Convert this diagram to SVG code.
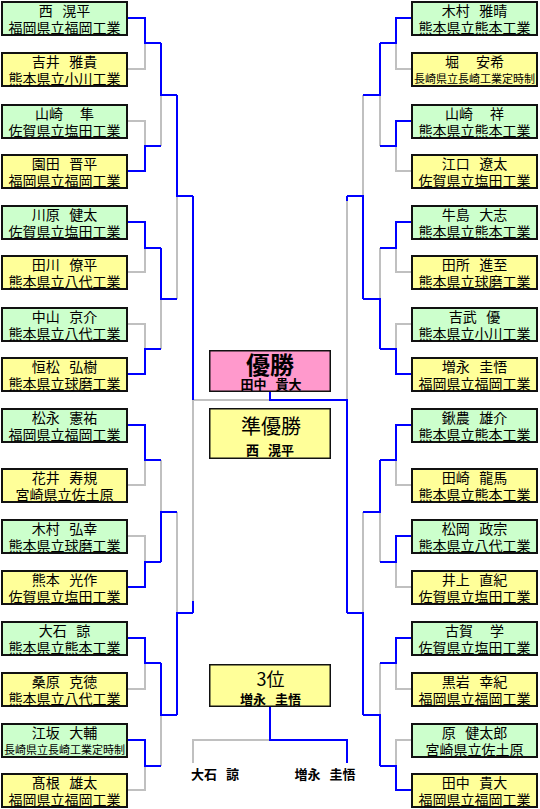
<svg xmlns="http://www.w3.org/2000/svg" width="540" height="809" viewBox="0 0 540 809">
<style>
text{font-family:"Noto Sans CJK JP","Noto Sans CJK SC",sans-serif;fill:#000;text-anchor:middle;white-space:pre}
.gb{fill:#ccffcc;stroke:#111;stroke-width:2}
.yb{fill:#ffff99;stroke:#111;stroke-width:2}
.cb{stroke:#111;stroke-width:1.5}
.nm{font-size:14px}
.sc{font-size:14px}
.ss{font-size:11px}
.bd{font-size:13px;font-weight:bold}
.bl{fill:none;stroke:#0000ff;stroke-width:2}
.gr{fill:none;stroke:#c0c0c0;stroke-width:2}
</style>
<rect width="540" height="809" fill="#fff"/>
<g id="connectors">
<path class="gr" d="M127,69H145V43 M127,121H145V146 M127,272H145V248 M127,324H145V349 M127,485H145V460 M127,536H145V562 M127,689H145V663 M127,790H145V766 M161,146V95 M161,349V299 M161,460V512 M161,766V715 M177,299V196 M177,512V613 M193,613V400H270 M412,69H396V43 M412,171H396V146 M412,272H396V248 M412,324H396V349 M412,485H396V460 M412,587H396V562 M412,689H396V663 M412,740H396V766 M380,146V95 M380,248V299 M380,562V512 M380,663V715 M363,95V196 M363,512V613 M347,196V400 M270,740H193V763"/>
<path class="bl" d="M127,18H145V43H161 M127,171H145V146H161 M127,222H145V248H161 M127,374H145V349H161 M127,425H145V460H161 M127,587H145V562H161 M127,638H145V663H161 M127,740H145V766H161 M161,43V95H177 M161,248V299H177 M161,562V512H177 M161,663V715H177 M177,95V196H193 M177,715V613H193 M193,196V400 M193,601V613 M412,18H396V43H380 M412,121H396V146H380 M412,222H396V248H380 M412,374H396V349H380 M412,425H396V460H380 M412,536H396V562H380 M412,638H396V663H380 M412,790H396V766H380 M380,43V95H363 M380,349V299H363 M380,460V512H363 M380,766V715H363 M363,299V196H347 M363,715V613H347 M347,196V201 M270,392V400H347V613 M270,707V740H347V763"/>
</g>
<g id="L01"><rect class="gb" x="2" y="2" width="125" height="33"/><text class="nm" x="64.5" y="16" xml:space="preserve">西   滉平</text><text class="sc" x="64.5" y="33">福岡県立福岡工業</text></g>
<g id="L02"><rect class="yb" x="2" y="53" width="125" height="33"/><text class="nm" x="64.5" y="67" xml:space="preserve">吉井   雅貴</text><text class="sc" x="64.5" y="84">熊本県立小川工業</text></g>
<g id="L03"><rect class="gb" x="2" y="105" width="125" height="33"/><text class="nm" x="64.5" y="119" xml:space="preserve">山崎　 隼</text><text class="sc" x="64.5" y="136">佐賀県立塩田工業</text></g>
<g id="L04"><rect class="yb" x="2" y="155" width="125" height="33"/><text class="nm" x="64.5" y="169" xml:space="preserve">園田   晋平</text><text class="sc" x="64.5" y="186">福岡県立福岡工業</text></g>
<g id="L05"><rect class="gb" x="2" y="206" width="125" height="33"/><text class="nm" x="64.5" y="220" xml:space="preserve">川原   健太</text><text class="sc" x="64.5" y="237">佐賀県立塩田工業</text></g>
<g id="L06"><rect class="yb" x="2" y="256" width="125" height="33"/><text class="nm" x="64.5" y="270" xml:space="preserve">田川   僚平</text><text class="sc" x="64.5" y="287">熊本県立八代工業</text></g>
<g id="L07"><rect class="gb" x="2" y="308" width="125" height="33"/><text class="nm" x="64.5" y="322" xml:space="preserve">中山   京介</text><text class="sc" x="64.5" y="339">熊本県立八代工業</text></g>
<g id="L08"><rect class="yb" x="2" y="358" width="125" height="33"/><text class="nm" x="64.5" y="372" xml:space="preserve">恒松   弘樹</text><text class="sc" x="64.5" y="389">熊本県立球磨工業</text></g>
<g id="L09"><rect class="gb" x="2" y="409" width="125" height="33"/><text class="nm" x="64.5" y="423" xml:space="preserve">松永   憲祐</text><text class="sc" x="64.5" y="440">福岡県立福岡工業</text></g>
<g id="L10"><rect class="yb" x="2" y="469" width="125" height="33"/><text class="nm" x="64.5" y="483" xml:space="preserve">花井   寿規</text><text class="sc" x="64.5" y="500">宮崎県立佐土原</text></g>
<g id="L11"><rect class="gb" x="2" y="520" width="125" height="33"/><text class="nm" x="64.5" y="534" xml:space="preserve">木村   弘幸</text><text class="sc" x="64.5" y="551">熊本県立球磨工業</text></g>
<g id="L12"><rect class="yb" x="2" y="571" width="125" height="33"/><text class="nm" x="64.5" y="585" xml:space="preserve">熊本   光作</text><text class="sc" x="64.5" y="602">佐賀県立塩田工業</text></g>
<g id="L13"><rect class="gb" x="2" y="622" width="125" height="33"/><text class="nm" x="64.5" y="636" xml:space="preserve">大石   諒</text><text class="sc" x="64.5" y="653">熊本県立熊本工業</text></g>
<g id="L14"><rect class="yb" x="2" y="673" width="125" height="33"/><text class="nm" x="64.5" y="687" xml:space="preserve">桑原   克徳</text><text class="sc" x="64.5" y="704">熊本県立八代工業</text></g>
<g id="L15"><rect class="gb" x="2" y="724" width="125" height="33"/><text class="nm" x="64.5" y="738" xml:space="preserve">江坂   大輔</text><text class="ss" x="64.5" y="754">長崎県立長崎工業定時制</text></g>
<g id="L16"><rect class="yb" x="2" y="774" width="125" height="33"/><text class="nm" x="64.5" y="788" xml:space="preserve">髙根   雄太</text><text class="sc" x="64.5" y="805">福岡県立福岡工業</text></g>
<g id="R01"><rect class="gb" x="412" y="2" width="125" height="33"/><text class="nm" x="474.5" y="16" xml:space="preserve">木村   雅晴</text><text class="sc" x="474.5" y="33">熊本県立熊本工業</text></g>
<g id="R02"><rect class="yb" x="412" y="53" width="125" height="33"/><text class="nm" x="474.5" y="67" xml:space="preserve">堀　 安希</text><text class="ss" x="474.5" y="83">長崎県立長崎工業定時制</text></g>
<g id="R03"><rect class="gb" x="412" y="105" width="125" height="33"/><text class="nm" x="474.5" y="119" xml:space="preserve">山崎　 祥</text><text class="sc" x="474.5" y="136">熊本県立熊本工業</text></g>
<g id="R04"><rect class="yb" x="412" y="155" width="125" height="33"/><text class="nm" x="474.5" y="169" xml:space="preserve">江口   遼太</text><text class="sc" x="474.5" y="186">佐賀県立塩田工業</text></g>
<g id="R05"><rect class="gb" x="412" y="206" width="125" height="33"/><text class="nm" x="474.5" y="220" xml:space="preserve">牛島   大志</text><text class="sc" x="474.5" y="237">熊本県立熊本工業</text></g>
<g id="R06"><rect class="yb" x="412" y="256" width="125" height="33"/><text class="nm" x="474.5" y="270" xml:space="preserve">田所   進至</text><text class="sc" x="474.5" y="287">熊本県立球磨工業</text></g>
<g id="R07"><rect class="gb" x="412" y="308" width="125" height="33"/><text class="nm" x="474.5" y="322" xml:space="preserve">吉武   優</text><text class="sc" x="474.5" y="339">熊本県立小川工業</text></g>
<g id="R08"><rect class="yb" x="412" y="358" width="125" height="33"/><text class="nm" x="474.5" y="372" xml:space="preserve">増永   圭悟</text><text class="sc" x="474.5" y="389">福岡県立福岡工業</text></g>
<g id="R09"><rect class="gb" x="412" y="409" width="125" height="33"/><text class="nm" x="474.5" y="423" xml:space="preserve">鍬農   雄介</text><text class="sc" x="474.5" y="440">熊本県立熊本工業</text></g>
<g id="R10"><rect class="yb" x="412" y="469" width="125" height="33"/><text class="nm" x="474.5" y="483" xml:space="preserve">田崎   龍馬</text><text class="sc" x="474.5" y="500">熊本県立熊本工業</text></g>
<g id="R11"><rect class="gb" x="412" y="520" width="125" height="33"/><text class="nm" x="474.5" y="534" xml:space="preserve">松岡   政宗</text><text class="sc" x="474.5" y="551">熊本県立八代工業</text></g>
<g id="R12"><rect class="yb" x="412" y="571" width="125" height="33"/><text class="nm" x="474.5" y="585" xml:space="preserve">井上   直紀</text><text class="sc" x="474.5" y="602">佐賀県立塩田工業</text></g>
<g id="R13"><rect class="gb" x="412" y="622" width="125" height="33"/><text class="nm" x="474.5" y="636" xml:space="preserve">古賀　 学</text><text class="sc" x="474.5" y="653">佐賀県立塩田工業</text></g>
<g id="R14"><rect class="yb" x="412" y="673" width="125" height="33"/><text class="nm" x="474.5" y="687" xml:space="preserve">黒岩   幸紀</text><text class="sc" x="474.5" y="704">福岡県立福岡工業</text></g>
<g id="R15"><rect class="gb" x="412" y="724" width="125" height="33"/><text class="nm" x="474.5" y="738" xml:space="preserve">原   健太郎</text><text class="sc" x="474.5" y="755">宮崎県立佐土原</text></g>
<g id="R16"><rect class="yb" x="412" y="774" width="125" height="33"/><text class="nm" x="474.5" y="788" xml:space="preserve">田中   貴大</text><text class="sc" x="474.5" y="805">福岡県立福岡工業</text></g>
<g id="champion"><rect class="cb" x="209.75" y="350.75" width="120.5" height="40.5" fill="#ff99cc"/><text x="270" y="374" style="font-size:24px;font-weight:bold">優勝</text><text class="bd" x="271" y="389" xml:space="preserve">田中   貴大</text></g>
<g id="runnerup"><rect class="cb" x="209.75" y="408.75" width="120.5" height="49.5" fill="#ffff99"/><text x="271" y="434" style="font-size:20px">準優勝</text><text class="bd" x="270" y="455" xml:space="preserve">西   滉平</text></g>
<g id="third"><rect class="cb" x="209.75" y="664.75" width="120.5" height="41.5" fill="#ffff99"/><text x="270.5" y="686" style="font-size:18px">3位</text><text class="bd" x="270.5" y="704" xml:space="preserve">増永   圭悟</text></g>
<g id="third-left"><text class="bd" x="215" y="779" xml:space="preserve">大石   諒</text></g>
<g id="third-right"><text class="bd" x="325" y="779" xml:space="preserve">増永   圭悟</text></g>
</svg>
